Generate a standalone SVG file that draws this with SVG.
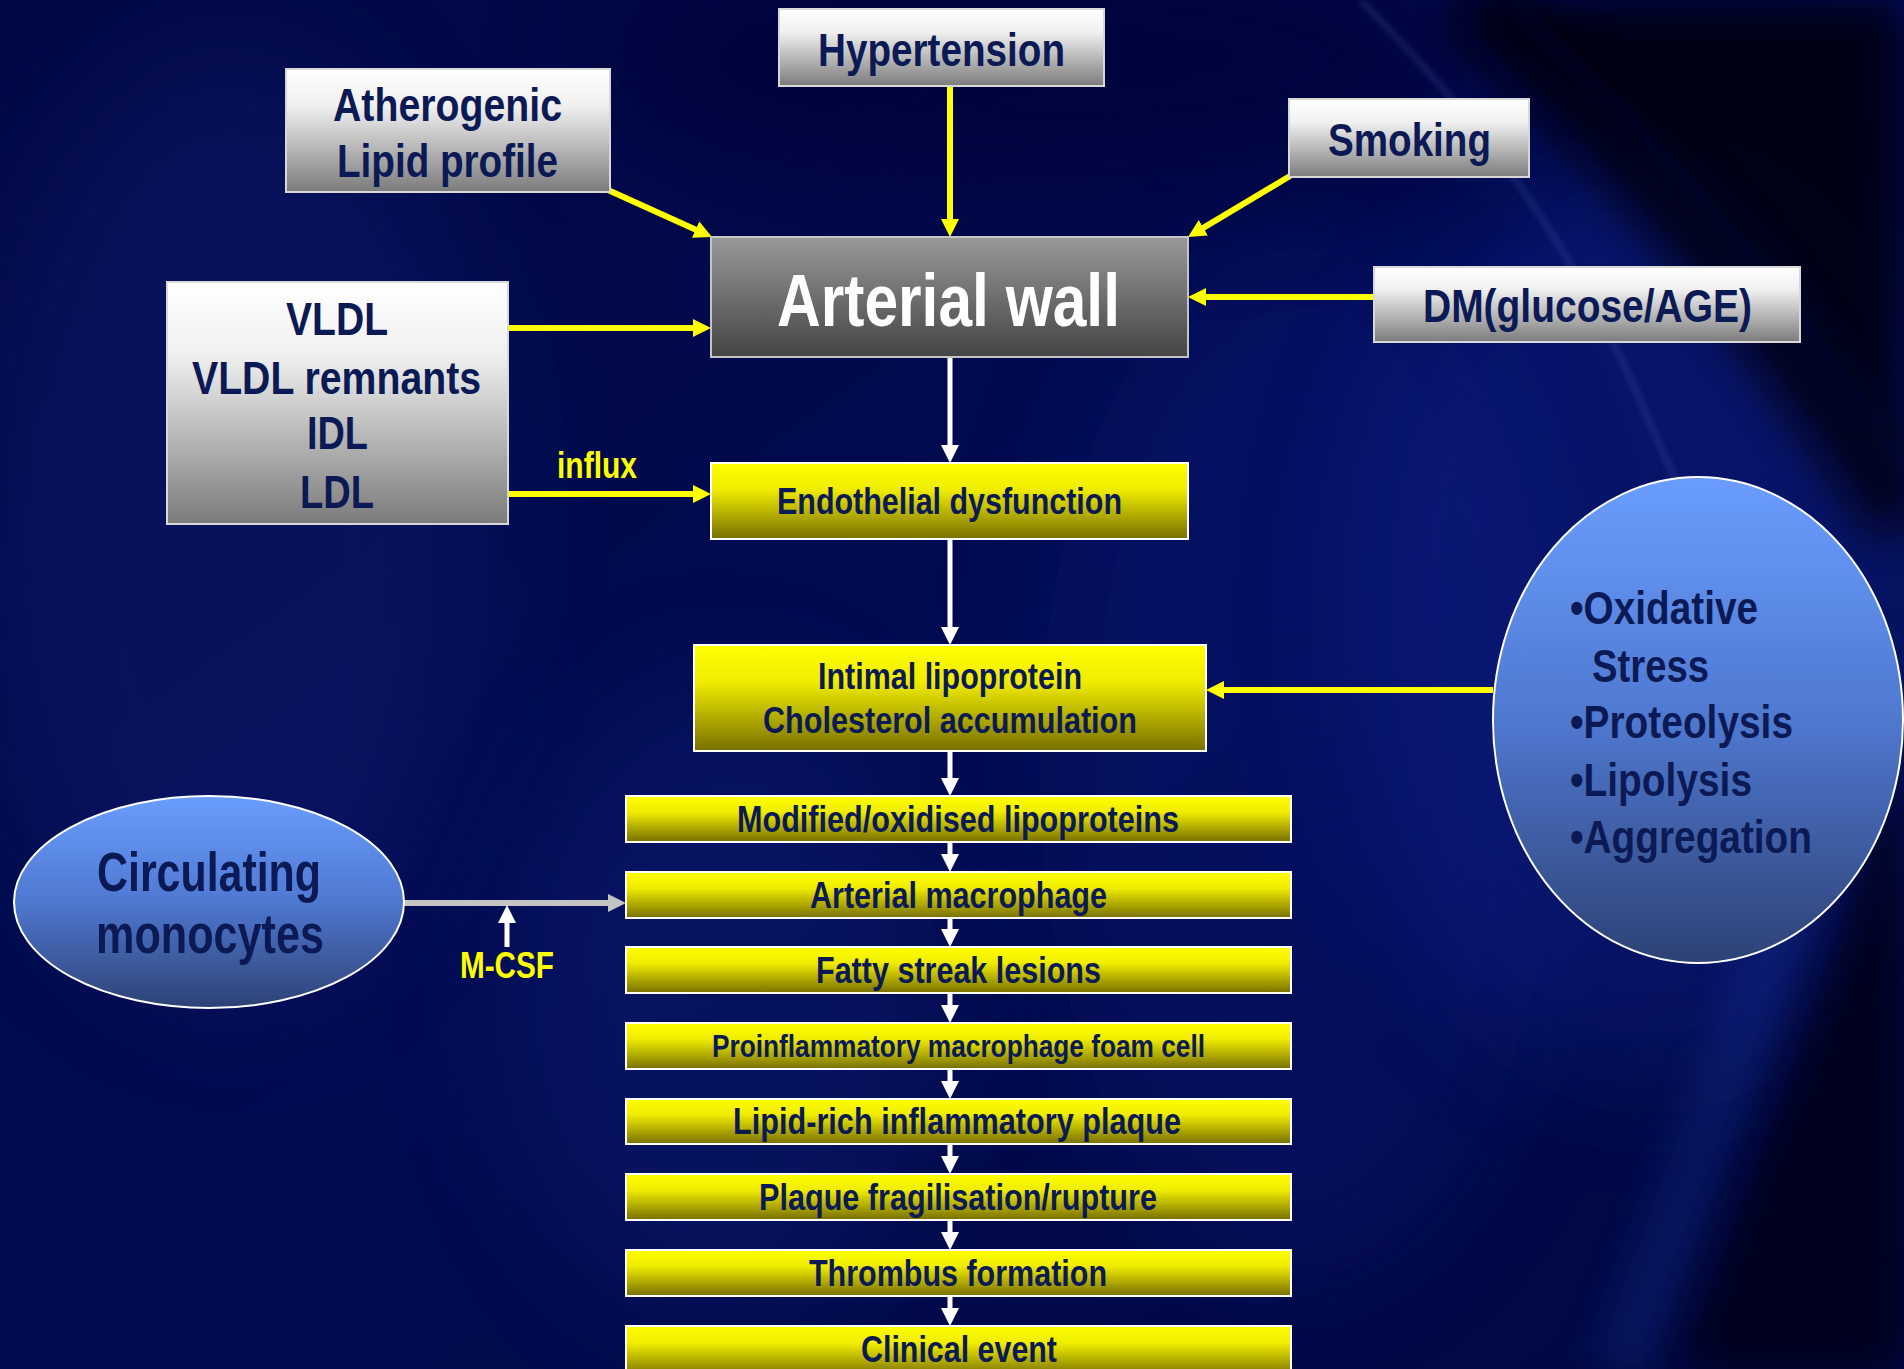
<svg xmlns="http://www.w3.org/2000/svg" width="1904" height="1369" viewBox="0 0 1904 1369">
<defs>
  <linearGradient id="bg" x1="0" y1="0" x2="1" y2="1">
    <stop offset="0" stop-color="#010844"/>
    <stop offset="0.5" stop-color="#020b52"/>
    <stop offset="1" stop-color="#010842"/>
  </linearGradient>
  <linearGradient id="gGray" x1="0" y1="0" x2="0" y2="1">
    <stop offset="0" stop-color="#ffffff"/>
    <stop offset="0.3" stop-color="#f0f0f0"/>
    <stop offset="1" stop-color="#7b7b7b"/>
  </linearGradient>
  <linearGradient id="gDark" x1="0" y1="0" x2="0" y2="1">
    <stop offset="0" stop-color="#999999"/>
    <stop offset="1" stop-color="#444444"/>
  </linearGradient>
  <linearGradient id="gYel" x1="0" y1="0" x2="0" y2="1">
    <stop offset="0" stop-color="#ffff00"/>
    <stop offset="0.35" stop-color="#f0ec00"/>
    <stop offset="1" stop-color="#776f00"/>
  </linearGradient>
  <linearGradient id="gEll" x1="0" y1="0" x2="0" y2="1">
    <stop offset="0" stop-color="#6a9dff"/>
    <stop offset="0.5" stop-color="#4f78d0"/>
    <stop offset="1" stop-color="#2d4275"/>
  </linearGradient>
  <filter id="b60" x="-50%" y="-50%" width="200%" height="200%"><feGaussianBlur stdDeviation="60"/></filter>
  <filter id="b20" x="-50%" y="-50%" width="200%" height="200%"><feGaussianBlur stdDeviation="20"/></filter>
  <filter id="b3" x="-20%" y="-20%" width="140%" height="140%"><feGaussianBlur stdDeviation="3"/></filter>
  <marker id="ay" markerUnits="userSpaceOnUse" viewBox="0 0 18 18" markerWidth="18" markerHeight="18" refX="7" refY="9" orient="auto"><path d="M0,0 L18,9 L0,18 Z" fill="#ffff00"/></marker>
  <marker id="aw" markerUnits="userSpaceOnUse" viewBox="0 0 18 18" markerWidth="18" markerHeight="18" refX="7" refY="9" orient="auto"><path d="M0,0 L18,9 L0,18 Z" fill="#ffffff"/></marker>
  <marker id="ag" markerUnits="userSpaceOnUse" viewBox="0 0 18 18" markerWidth="18" markerHeight="18" refX="7" refY="9" orient="auto"><path d="M0,0 L18,9 L0,18 Z" fill="#c4c4c4"/></marker>
  <style>
    text { font-family: "Liberation Sans Narrow", "Liberation Sans", Arial, sans-serif; font-weight: bold; fill: #0b1a55; text-anchor: middle; }
    .big { font-size: 47px; }
    .mid { font-size: 36px; }
    .lbl { font-size: 37px; fill: #ffff00; }
    .gbox { fill: url(#gGray); stroke: #d8d8d8; stroke-width: 2; }
    .ybox { fill: url(#gYel); stroke: #ffffff; stroke-width: 2; }
    .ell { fill: url(#gEll); stroke: #ffffff; stroke-width: 2; }
    .ly { stroke: #ffff00; stroke-width: 6; fill: none; marker-end: url(#ay); }
    .lw { stroke: #ffffff; stroke-width: 5; fill: none; marker-end: url(#aw); }
    .lg { stroke: #c4c4c4; stroke-width: 6; fill: none; marker-end: url(#ag); }
  </style>
</defs>

<!-- background -->
<g id="background">
  <rect x="0" y="0" width="1904" height="1369" fill="url(#bg)"/>
  <ellipse cx="230" cy="520" rx="260" ry="480" fill="#1c2b8e" opacity="0.25" filter="url(#b60)"/>
  <ellipse cx="720" cy="1000" rx="220" ry="320" fill="#1d2f95" opacity="0.22" filter="url(#b60)"/>
  <ellipse cx="1300" cy="760" rx="260" ry="520" fill="#0d1c85" opacity="0.3" filter="url(#b60)"/>
  <ellipse cx="1650" cy="620" rx="300" ry="460" fill="#1629a2" opacity="0.3" filter="url(#b60)"/>
  <ellipse cx="1050" cy="60" rx="450" ry="140" fill="#010530" opacity="0.55" filter="url(#b60)"/>
  <path d="M1480 0 L1904 0 L1904 470 C1800 310 1660 140 1480 0 Z" fill="#000008" opacity="0.85" filter="url(#b20)"/>
  <path d="M1470 0 C1600 120 1750 280 1904 520" stroke="#00030f" stroke-width="70" fill="none" opacity="0.8" filter="url(#b20)"/>
  <path d="M1360 0 C1470 110 1560 220 1640 400 C1690 520 1720 560 1740 620" stroke="#4a66b0" stroke-width="3" fill="none" opacity="0.5" filter="url(#b3)"/>
  <path d="M1860 640 C1800 900 1700 1150 1620 1369" stroke="#1a3aa0" stroke-width="50" fill="none" opacity="0.3" filter="url(#b20)"/>
  <path d="M1904 700 C1850 950 1760 1150 1680 1369 L1904 1369 Z" fill="#000518" opacity="0.85" filter="url(#b20)"/>
</g>

<!-- connectors -->
<g id="connectors">
  <line class="ly" x1="608" y1="190" x2="702" y2="232.5"/>
  <line class="ly" x1="950" y1="86" x2="950" y2="226"/>
  <line class="ly" x1="1290" y1="176" x2="1197.4" y2="231.4"/>
  <line class="ly" x1="1374" y1="297" x2="1199" y2="297"/>
  <line class="ly" x1="508" y1="328" x2="700" y2="328"/>
  <line class="ly" x1="508" y1="494" x2="700" y2="494"/>
  <line class="ly" x1="1493" y1="690" x2="1217" y2="690"/>
  <line class="lw" x1="950" y1="357" x2="950" y2="452"/>
  <line class="lw" x1="950" y1="539" x2="950" y2="634"/>
  <line class="lw" x1="950" y1="751" x2="950" y2="785"/>
  <line class="lw" x1="950" y1="842" x2="950" y2="861"/>
  <line class="lw" x1="950" y1="918" x2="950" y2="936"/>
  <line class="lw" x1="950" y1="993" x2="950" y2="1012"/>
  <line class="lw" x1="950" y1="1069" x2="950" y2="1088"/>
  <line class="lw" x1="950" y1="1144" x2="950" y2="1163"/>
  <line class="lw" x1="950" y1="1220" x2="950" y2="1239"/>
  <line class="lw" x1="950" y1="1296" x2="950" y2="1315"/>
  <line class="lg" x1="404" y1="903" x2="615" y2="903"/>
  <line class="lw" x1="507" y1="947" x2="507" y2="916"/>
  <text class="lbl" x="597" y="478" textLength="80" lengthAdjust="spacingAndGlyphs">influx</text>
  <text class="lbl" x="507" y="978" textLength="94" lengthAdjust="spacingAndGlyphs">M-CSF</text>
</g>

<!-- nodes -->
<g id="hypertension">
  <rect class="gbox" x="779" y="9" width="325" height="77"/>
  <text class="big" x="941.5" y="66" textLength="247" lengthAdjust="spacingAndGlyphs">Hypertension</text>
</g>
<g id="atherogenic">
  <rect class="gbox" x="286" y="69" width="324" height="123"/>
  <text class="big" x="447.5" y="121" textLength="229" lengthAdjust="spacingAndGlyphs">Atherogenic</text>
  <text class="big" x="447.5" y="177" textLength="221" lengthAdjust="spacingAndGlyphs">Lipid profile</text>
</g>
<g id="smoking">
  <rect class="gbox" x="1289" y="99" width="240" height="78"/>
  <text class="big" x="1409.5" y="156" textLength="163" lengthAdjust="spacingAndGlyphs">Smoking</text>
</g>
<g id="dm">
  <rect class="gbox" x="1374" y="267" width="426" height="75"/>
  <text class="big" x="1587.5" y="322" textLength="329" lengthAdjust="spacingAndGlyphs">DM(glucose/AGE)</text>
</g>
<g id="lipoproteins">
  <rect class="gbox" x="167" y="282" width="341" height="242"/>
  <text class="big" x="337" y="335" textLength="102" lengthAdjust="spacingAndGlyphs">VLDL</text>
  <text class="big" x="336.5" y="394" textLength="289" lengthAdjust="spacingAndGlyphs">VLDL remnants</text>
  <text class="big" x="337.5" y="449" textLength="61" lengthAdjust="spacingAndGlyphs">IDL</text>
  <text class="big" x="337" y="508" textLength="74" lengthAdjust="spacingAndGlyphs">LDL</text>
</g>
<g id="arterial-wall">
  <rect x="711" y="237" width="477" height="120" fill="url(#gDark)" stroke="#c4c4c4" stroke-width="2"/>
  <text x="948.5" y="326" font-size="74" style="fill:#ffffff" textLength="343" lengthAdjust="spacingAndGlyphs">Arterial wall</text>
</g>
<g id="endothelial">
  <rect class="ybox" x="711" y="463" width="477" height="76"/>
  <text class="mid" x="949.5" y="514" textLength="345" lengthAdjust="spacingAndGlyphs">Endothelial dysfunction</text>
</g>
<g id="intimal">
  <rect class="ybox" x="694" y="645" width="512" height="106"/>
  <text class="mid" x="950" y="689" textLength="264" lengthAdjust="spacingAndGlyphs">Intimal lipoprotein</text>
  <text class="mid" x="950" y="733" textLength="374" lengthAdjust="spacingAndGlyphs">Cholesterol accumulation</text>
</g>
<g id="modified">
  <rect class="ybox" x="626" y="796" width="665" height="46"/>
  <text class="mid" x="958" y="832" textLength="442" lengthAdjust="spacingAndGlyphs">Modified/oxidised lipoproteins</text>
</g>
<g id="macrophage">
  <rect class="ybox" x="626" y="872" width="665" height="46"/>
  <text class="mid" x="958.5" y="908" textLength="297" lengthAdjust="spacingAndGlyphs">Arterial macrophage</text>
</g>
<g id="fatty-streak">
  <rect class="ybox" x="626" y="947" width="665" height="46"/>
  <text class="mid" x="958.5" y="983" textLength="285" lengthAdjust="spacingAndGlyphs">Fatty streak lesions</text>
</g>
<g id="foam-cell">
  <rect class="ybox" x="626" y="1023" width="665" height="46"/>
  <text x="958.5" y="1057" font-size="31" textLength="493" lengthAdjust="spacingAndGlyphs">Proinflammatory macrophage foam cell</text>
</g>
<g id="plaque">
  <rect class="ybox" x="626" y="1099" width="665" height="45"/>
  <text class="mid" x="957" y="1134" textLength="448" lengthAdjust="spacingAndGlyphs">Lipid-rich inflammatory plaque</text>
</g>
<g id="rupture">
  <rect class="ybox" x="626" y="1174" width="665" height="46"/>
  <text class="mid" x="958" y="1210" textLength="398" lengthAdjust="spacingAndGlyphs">Plaque fragilisation/rupture</text>
</g>
<g id="thrombus">
  <rect class="ybox" x="626" y="1250" width="665" height="46"/>
  <text class="mid" x="958" y="1286" textLength="298" lengthAdjust="spacingAndGlyphs">Thrombus formation</text>
</g>
<g id="clinical">
  <rect class="ybox" x="626" y="1326" width="665" height="50"/>
  <text class="mid" x="959" y="1362" textLength="196" lengthAdjust="spacingAndGlyphs">Clinical event</text>
</g>
<g id="monocytes">
  <ellipse class="ell" cx="209" cy="902" rx="195" ry="106"/>
  <text x="209" y="891" font-size="55" textLength="224" lengthAdjust="spacingAndGlyphs">Circulating</text>
  <text x="210" y="953" font-size="55" textLength="228" lengthAdjust="spacingAndGlyphs">monocytes</text>
</g>
<g id="stress">
  <ellipse class="ell" cx="1698" cy="720" rx="205" ry="243"/>
  <text class="big" x="1570" y="624" style="text-anchor:start" textLength="188" lengthAdjust="spacingAndGlyphs">•Oxidative</text>
  <text class="big" x="1592" y="682" style="text-anchor:start" textLength="117" lengthAdjust="spacingAndGlyphs">Stress</text>
  <text class="big" x="1570" y="738" style="text-anchor:start" textLength="223" lengthAdjust="spacingAndGlyphs">•Proteolysis</text>
  <text class="big" x="1570" y="796" style="text-anchor:start" textLength="182" lengthAdjust="spacingAndGlyphs">•Lipolysis</text>
  <text class="big" x="1570" y="853" style="text-anchor:start" textLength="242" lengthAdjust="spacingAndGlyphs">•Aggregation</text>
</g>
</svg>
